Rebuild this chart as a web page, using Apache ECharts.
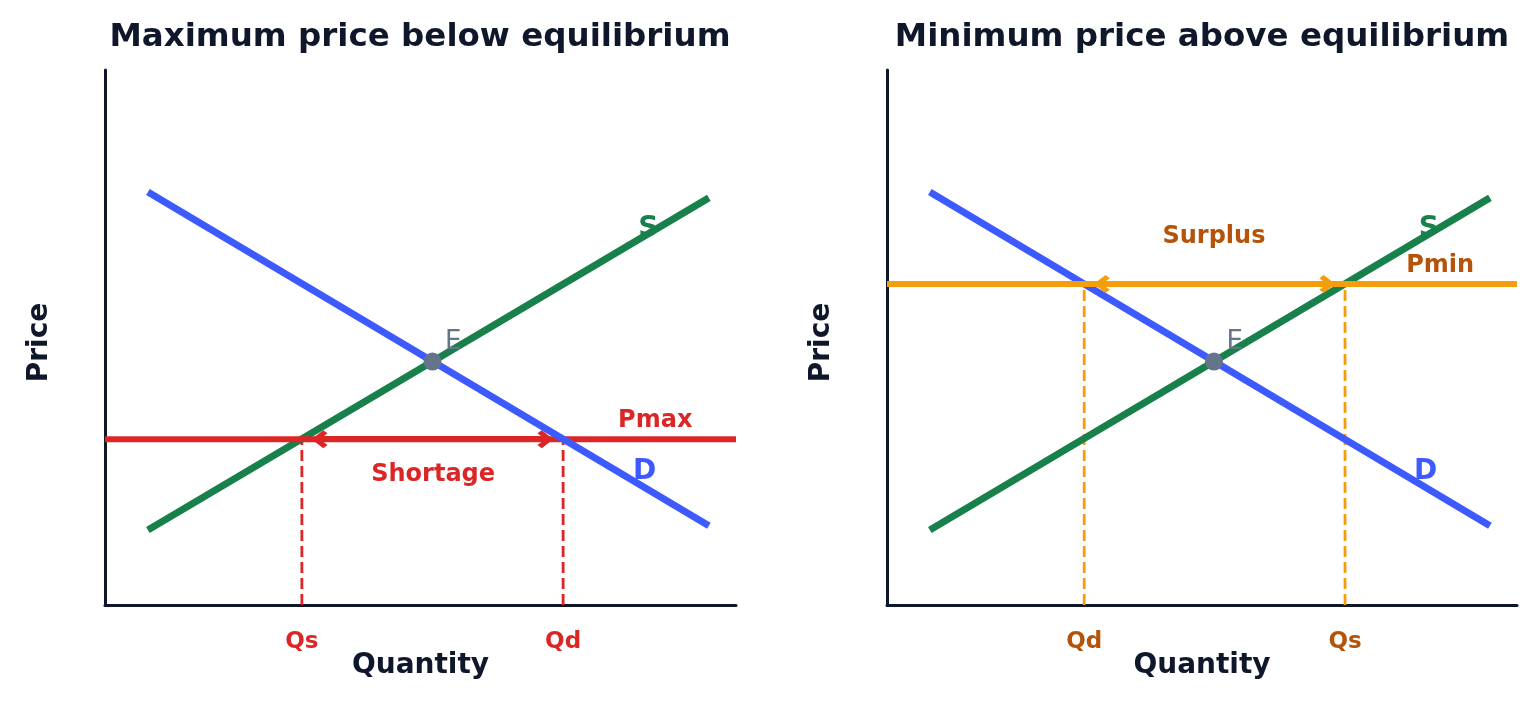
<!DOCTYPE html>
<html>
<head>
<meta charset="utf-8">
<title>Price controls</title>
<script src="https://cdn.jsdelivr.net/npm/echarts@6.0.0/dist/echarts.min.js"></script>
<style>
  html, body { margin: 0; padding: 0; background: #fff; }
  #main { width: 1539px; height: 701px; }
</style>
</head>
<body>
<div id="main"></div>
<script>
// curve data (quantity / price units)
var curveQ = [0.68, 9.57];
var demandP = [7.72, 1.48];
var supplyP = [1.40, 7.61];
var equilibrium = [5.19, 4.55];
var priceMax = 3.1;
var priceMin = 6.0;
var shortageQ = [3.12, 7.26];   // Qs, Qd at Pmax
var surplusQ = [3.13, 7.27];    // Qd, Qs at Pmin
var shortageTicks = ['Qs', 'Qd'];
var surplusTicks = ['Qd', 'Qs'];
// annotations
var leftNotes = ['S', 'D', 'Pmax', 'Shortage', 'E'];
var leftNotePos = [[8.61, 7.03], [8.55, 2.49], [8.72, 3.44], [5.2, 2.43], [5.52, 4.92]];
var rightNotes = ['S', 'D', 'Pmin', 'Surplus', 'E'];
var rightNotePos = [[8.6, 7.03], [8.55, 2.49], [8.78, 6.34], [5.19, 6.89], [5.52, 4.92]];

var FONT = 'DejaVu Sans';
var INK = '#0f172a';
var BLUE = '#3d5afe';
var GREEN = '#17804b';
var GREY = '#64748b';
var chevron = 'path://M10,0 L20,9.5 L16.5,13 L10,6.8 L3.5,13 L0,9.5 Z';
var ARROW_INSET = 0.28;

var chart = echarts.init(document.getElementById('main'));

function noteStyle(name, accent) {
    if (name == 'S') return { color: GREEN, fontSize: 28, fontWeight: 'bold' };
    if (name == 'D') return { color: BLUE, fontSize: 28, fontWeight: 'bold' };
    if (name == 'E') return { color: GREY, fontSize: 26, fontWeight: 'normal' };
    return { color: accent, fontSize: 24, fontWeight: 'bold' };
}

function makeAxes(idx, ticks, tickNames, tickColor) {
    var x = {
        type: 'value', gridIndex: idx, min: 0, max: 10,
        name: 'Quantity', nameLocation: 'middle', nameGap: 47, nameMoveOverlap: false,
        nameTextStyle: { fontFamily: FONT, fontSize: 28, fontWeight: 'bold', color: INK },
        axisLine: { show: true, onZero: false, lineStyle: { color: INK, width: 3 } },
        axisTick: { show: false },
        splitLine: { show: false },
        axisLabel: {
            customValues: ticks, margin: 26,
            fontFamily: FONT, fontSize: 23, fontWeight: 'bold', color: tickColor,
            formatter: function (v) {
                for (var i = 0; i < ticks.length; i++) {
                    if (Math.abs(ticks[i] - v) < 1e-6) return tickNames[i];
                }
                return '';
            }
        }
    };
    var y = {
        type: 'value', gridIndex: idx, min: 0, max: 10,
        name: 'Price', nameLocation: 'middle', nameGap: 51, nameRotate: 90, nameMoveOverlap: false,
        nameTextStyle: { fontFamily: FONT, fontSize: 28, fontWeight: 'bold', color: INK, padding: [0, 10, 0, 0] },
        axisLine: { show: true, onZero: false, lineStyle: { color: INK, width: 3 } },
        axisTick: { show: false },
        axisLabel: { show: false },
        splitLine: { show: false }
    };
    return { x: x, y: y };
}

function panelSeries(idx, price, qPair, lineColor, dashColor, notes, notePos, accent, demandOnTop) {
    var list = [];
    // price control line with the two-headed gap arrow
    list.push({
        type: 'line', xAxisIndex: idx, yAxisIndex: idx, symbol: 'none', z: 4,
        data: [[0, price], [10, price]],
        lineStyle: { color: lineColor, width: 6 },
        markLine: {
            silent: true, symbol: [chevron, chevron], symbolSize: [18, 16],
            label: { show: false },
            lineStyle: { color: lineColor, width: 6, type: 'solid' },
            data: [[{ coord: [qPair[0] + ARROW_INSET, price] }, { coord: [qPair[1] - ARROW_INSET, price] }]]
        }
    });
    for (var i = 0; i < qPair.length; i++) {
        list.push({
            type: 'line', xAxisIndex: idx, yAxisIndex: idx, symbol: 'none', z: 2,
            data: [[qPair[i], 0], [qPair[i], price]],
            lineStyle: { color: dashColor, width: 2.8, type: [11, 5] }
        });
    }
    list.push({
        type: 'line', xAxisIndex: idx, yAxisIndex: idx, symbol: 'none', z: demandOnTop ? 5 : 3,
        data: [[curveQ[0], demandP[0]], [curveQ[1], demandP[1]]],
        lineStyle: { color: BLUE, width: 7 }
    });
    list.push({
        type: 'line', xAxisIndex: idx, yAxisIndex: idx, symbol: 'none', z: 3,
        data: [[curveQ[0], supplyP[0]], [curveQ[1], supplyP[1]]],
        lineStyle: { color: GREEN, width: 7 }
    });
    list.push({
        type: 'scatter', xAxisIndex: idx, yAxisIndex: idx, z: 6,
        symbolSize: 18, itemStyle: { color: GREY, opacity: 1 },
        data: [equilibrium]
    });
    var noteData = [];
    for (var j = 0; j < notes.length; j++) {
        var st = noteStyle(notes[j], accent);
        noteData.push({
            value: notePos[j], name: notes[j],
            label: {
                show: true, position: 'inside', formatter: '{b}',
                fontFamily: FONT, fontSize: st.fontSize, fontWeight: st.fontWeight, color: st.color
            }
        });
    }
    list.push({
        type: 'scatter', xAxisIndex: idx, yAxisIndex: idx, z: 7, silent: true,
        symbolSize: 1, itemStyle: { color: 'rgba(0,0,0,0)', opacity: 1 },
        data: noteData
    });
    return list;
}

var a0 = makeAxes(0, shortageQ, shortageTicks, '#dc2626');
var a1 = makeAxes(1, surplusQ, surplusTicks, '#b45309');

var option = {
    animation: false,
    backgroundColor: '#ffffff',
    title: [
        { text: 'Maximum price below equilibrium', left: 415, top: 16, textAlign: 'center',
          textStyle: { fontFamily: FONT, fontSize: 32.5, fontWeight: 'bold', color: INK } },
        { text: 'Minimum price above equilibrium', left: 1197, top: 16, textAlign: 'center',
          textStyle: { fontFamily: FONT, fontSize: 32.5, fontWeight: 'bold', color: INK } }
    ],
    grid: [
        { left: 105, top: 70, width: 631, height: 535 },
        { left: 887, top: 70, width: 630, height: 535 }
    ],
    xAxis: [a0.x, a1.x],
    yAxis: [a0.y, a1.y],
    series: panelSeries(0, priceMax, shortageQ, '#dc2626', '#dc2626', leftNotes, leftNotePos, '#dc2626', true)
        .concat(panelSeries(1, priceMin, surplusQ, '#f59e0b', '#f59e0b', rightNotes, rightNotePos, '#b45309', false))
};
chart.setOption(option);
</script>
</body>
</html>
